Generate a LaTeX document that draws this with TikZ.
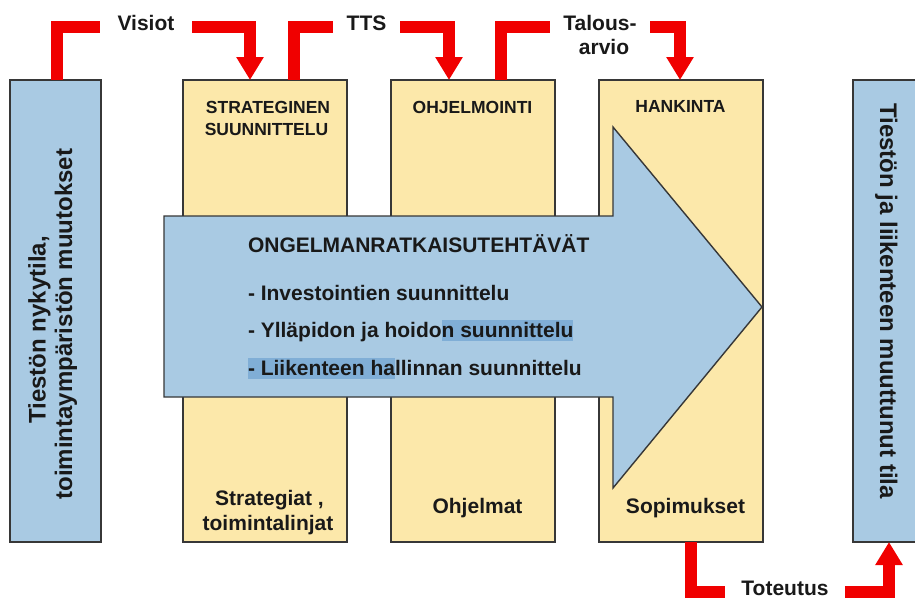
\documentclass[tikz,border=0pt]{standalone}
\usepackage{fontspec}
\setmainfont{Liberation Sans}
\usetikzlibrary{arrows.meta}
\definecolor{paleblue}{RGB}{169,202,227}
\definecolor{paleyellow}{RGB}{252,232,170}
\definecolor{edgegray}{RGB}{55,55,55}
\definecolor{flowred}{RGB}{240,0,0}
\definecolor{markblue}{RGB}{128,174,214}
\newcommand\setfs[2]{\fontsize{#1pt}{#2pt}\selectfont}

\begin{document}
\begin{tikzpicture}[x=1pt, y=-1pt,
  every node/.style={inner sep=0pt, outer sep=0pt, text=black!90},
  frame/.style={draw=edgegray, line width=1.4pt},
  sidebox/.style={frame, fill=paleblue, minimum height=462pt},
  stagebox/.style={frame, fill=paleyellow, minimum width=164pt, minimum height=462pt},
  flow/.style={draw=flowred, line width=12pt, line join=miter, -{Triangle[width=26pt, length=23pt]}},
  flowlabel/.style={fill=white, font=\bfseries\setfs{21}{23}, text height=15pt, text depth=9pt},
  sidetext/.style={font=\bfseries\setfs{24}{26}, anchor=base},
  headtext/.style={font=\bfseries\setfs{17.5}{21}, anchor=base},
  foottext/.style={font=\bfseries\setfs{21}{25}, anchor=base},
  tasktext/.style={font=\bfseries\setfs{21}{25}, anchor=base west},
  marked/.style={fill=markblue, text height=17pt, text depth=4pt},
]
\useasboundingbox (0,0) rectangle (915,600);
\fill[white] (0,0) rectangle (915,600);
\clip (0,0) rectangle (915,600);

% side boxes: present state and changed state
\node[sidebox, minimum width=91pt] (lbox) at (55.5,311) {};
\node[sidebox, minimum width=77pt] (rbox) at (891.5,311) {};

% planning stages
\node[stagebox] (strat) at (265,311) {};
\node[stagebox] (ohj) at (473,311) {};
\node[stagebox] (hank) at (681,311) {};

% large arrow across the stages
\draw[frame, fill=paleblue] (164,216) -- (613,216) -- (613,127) -- (762,307)
  -- (613,488) -- (613,397) -- (164,397) -- cycle;

% red flow connectors
\draw[flow] ([xshift=1.5pt]lbox.north) -- ++(0,-53) -| ([xshift=-15pt]strat.north);
\draw[flow] ([xshift=28.5pt]strat.north) -- ++(0,-53) -| ([xshift=-24pt]ohj.north);
\draw[flow] ([xshift=28pt]ohj.north) -- ++(0,-53) -| ([xshift=-1pt]hank.north);
\draw[flow] ([xshift=10pt]hank.south) -- ++(0,50) -| ([xshift=-2.5pt]rbox.south);

% connector labels
\node[flowlabel, minimum width=92pt] (visiot) at (146,27) {Visiot};
\node[flowlabel, minimum width=67pt] (tts) at (366.5,27) {TTS};
\node[flowlabel, minimum width=100pt] (talous) at (600,27) {Talous-};
\node[foottext] (arvio) at (604,54) {arvio};
\node[flowlabel, minimum width=120pt, text depth=3.5pt, anchor=base] (toteutus) at (785,595) {Toteutus};

% stage headings
\node[headtext] (h1a) at (268,113) {STRATEGINEN};
\node[headtext] (h1b) at (266.5,135) {SUUNNITTELU};
\node[headtext] (h2) at (472.5,113) {OHJELMOINTI};
\node[headtext] (h3) at (680.5,112.5) {HANKINTA};

% stage outputs
\node[foottext] (f1a) at (269.5,505) {Strategiat ,};
\node[foottext] (f1b) at (268,530) {toimintalinjat};
\node[foottext] (f2) at (477.5,513) {Ohjelmat};
\node[foottext] (f3) at (685.5,513) {Sopimukset};

% task list inside the arrow
\node[tasktext] (t0) at (248,252) {ONGELMANRATKAISUTEHTÄVÄT};
\node[tasktext] (t1) at (248,300) {- Investointien suunnittelu};
\node[tasktext] (t2a) at (248,337) {- Ylläpidon ja hoido};
\node[tasktext, marked] (t2b) at (t2a.base east) {n suunnittelu};
\node[tasktext, marked] (t3a) at (248,375) {- Liikenteen ha};
\node[tasktext] (t3b) at (t3a.base east) {llinnan suunnittelu};

% rotated side texts
\node[sidetext, rotate=90] (ls1) at (45.6,330) {Tiestön nykytila,};
\node[sidetext, rotate=90] (ls2) at (72,324) {toimintaympäristön muutokset};
\node[sidetext, rotate=-90] (rs) at (880,301) {Tiestön ja liikenteen muuttunut tila};
\end{tikzpicture}
\end{document}
